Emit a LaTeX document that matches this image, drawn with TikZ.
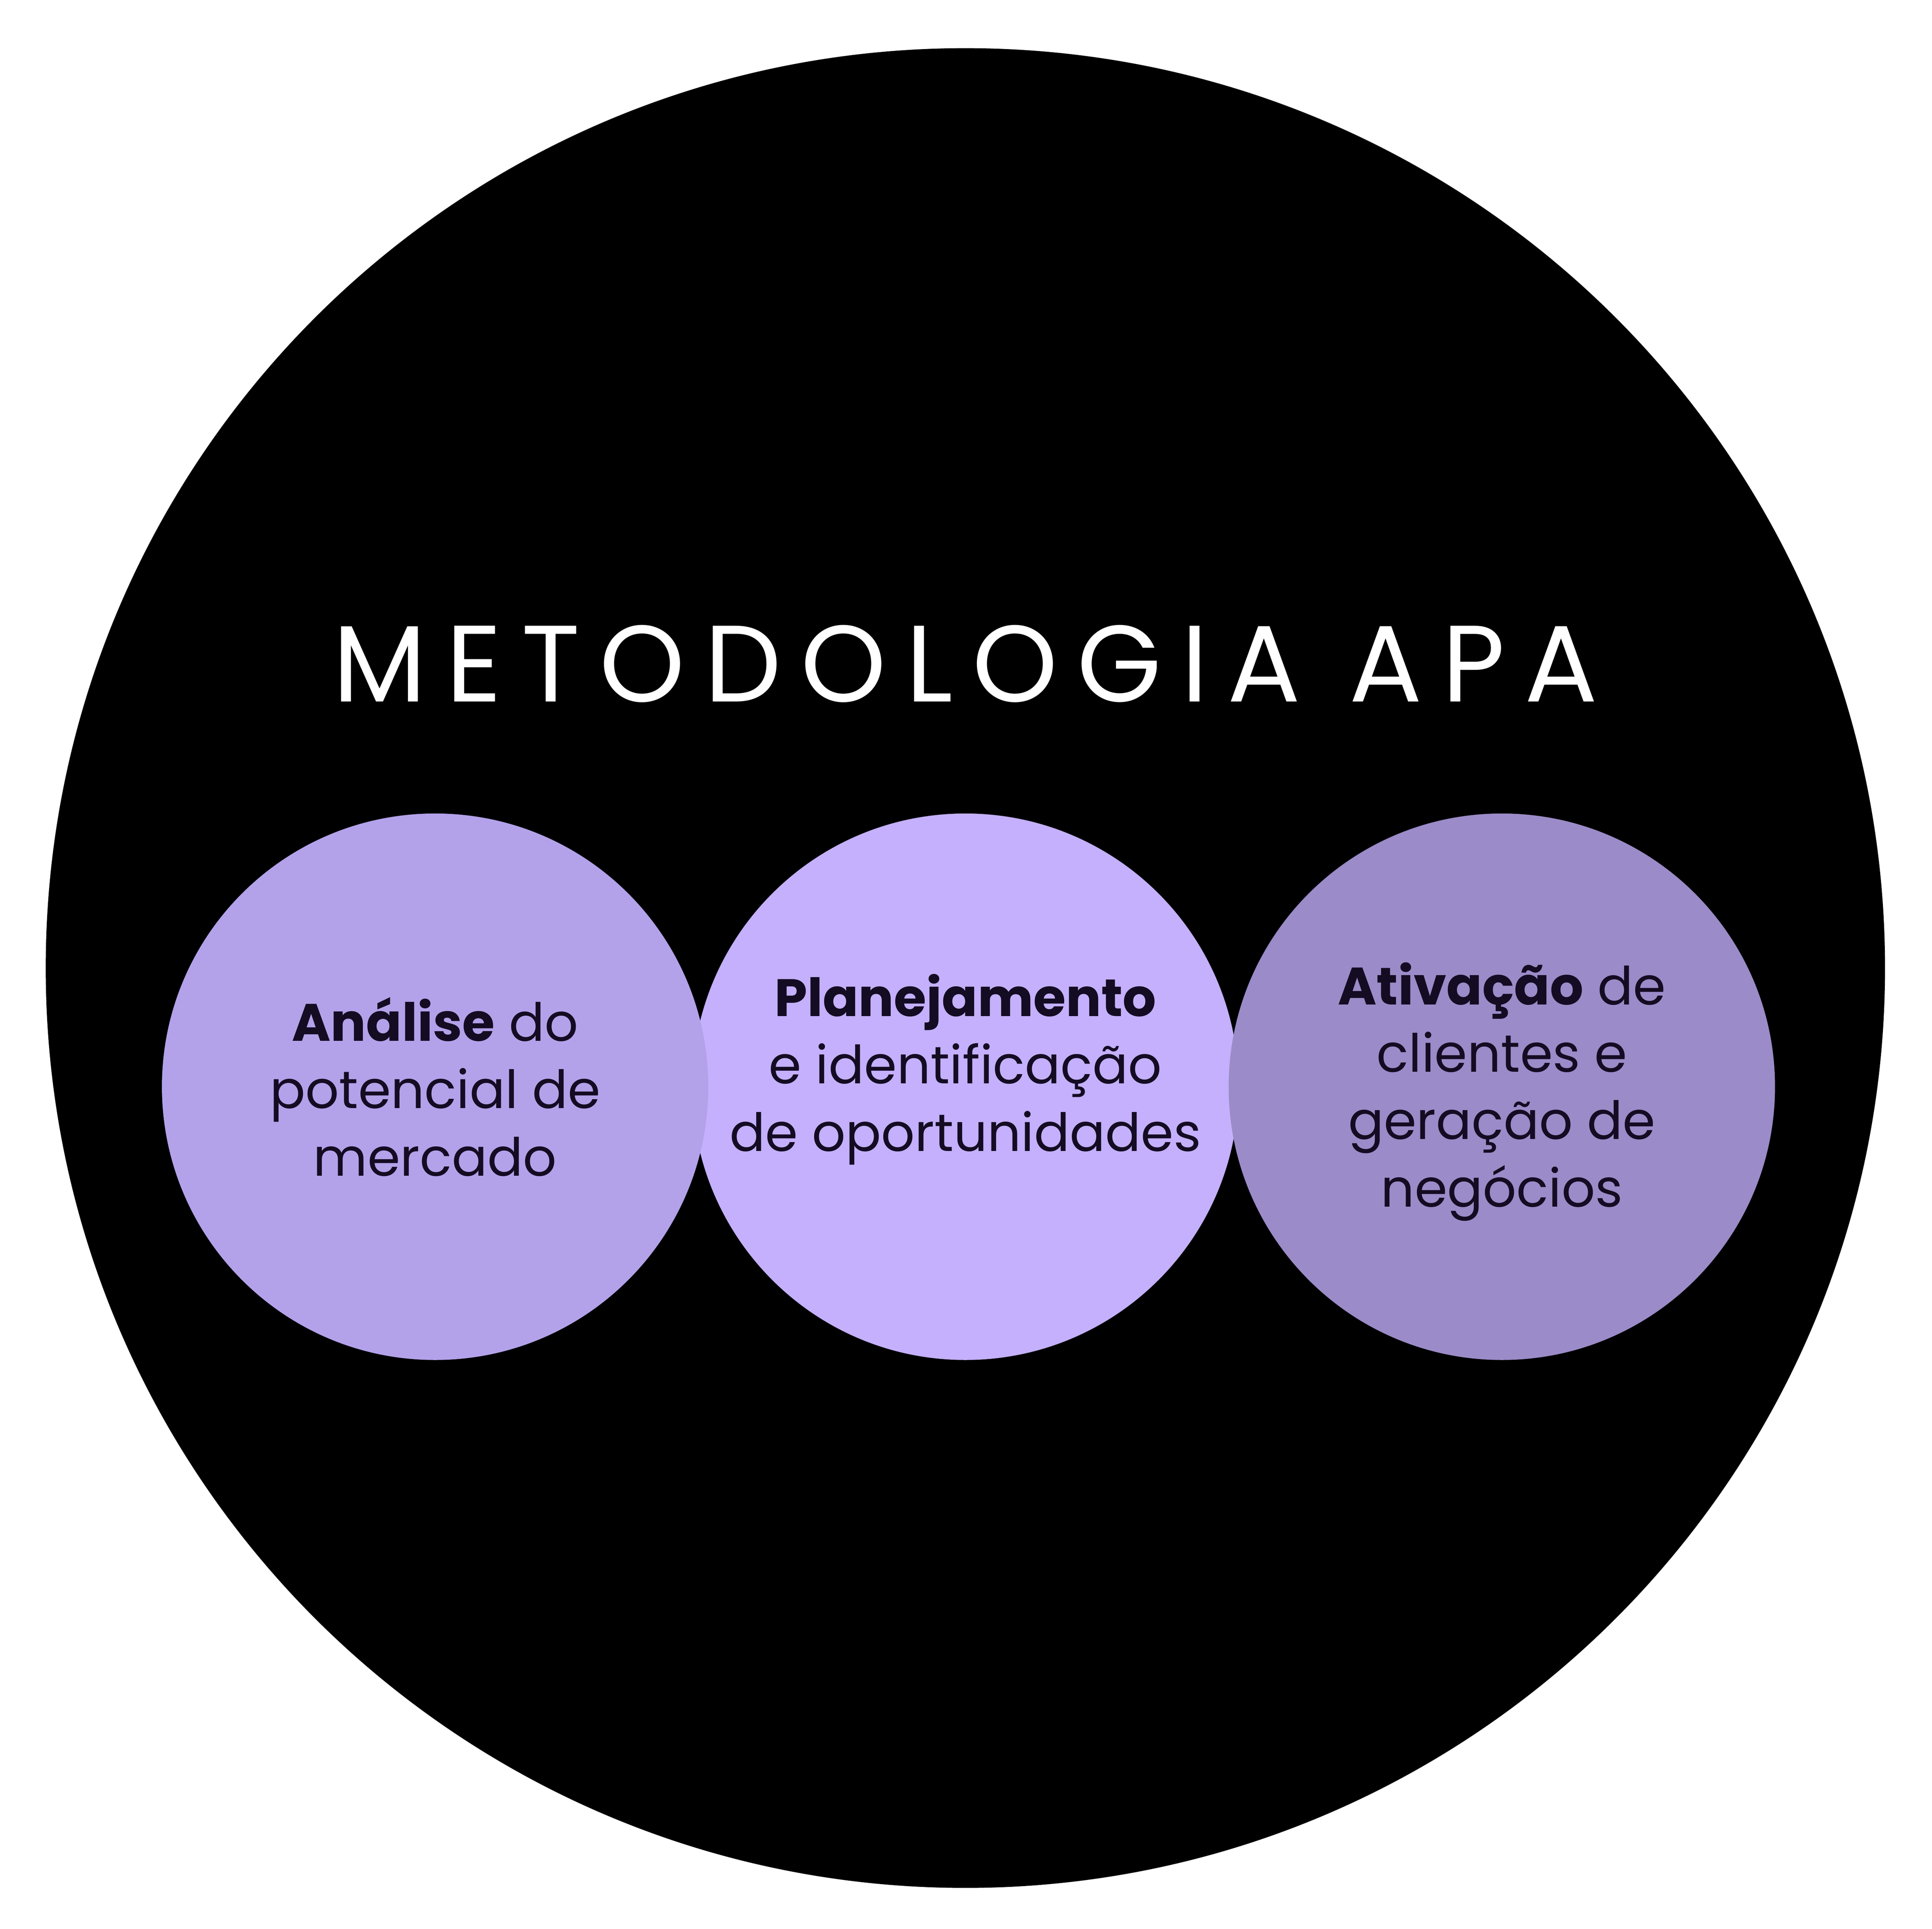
\documentclass[tikz,border=0pt]{standalone}
\usepackage{fontspec}
\setmainfont{Poppins}
\usetikzlibrary{positioning}
\definecolor{lilasA}{HTML}{B3A2EA}
\definecolor{lilasB}{HTML}{C4B0FC}
\definecolor{lilasC}{HTML}{9B8BC8}
\definecolor{tinta}{HTML}{140C22}
\tikzset{
    etapa/.style={circle, minimum size=4.42cm, inner sep=0pt},
    texto/.style={align=center, text=tinta, font=\fontsize{12.5}{15.5}\selectfont\addfontfeature{Scale=0.97}}
}
\begin{document}
\begin{tikzpicture}
	\useasboundingbox (0,0) rectangle (15.63,15.60);
	\node (fundo) [circle, fill=black, minimum size=14.88cm, inner sep=0pt] at (7.81,7.77) {};
	\node (titulo) [text=white, font=\fontsize{25}{30}\selectfont\addfontfeature{LetterSpace=18}] at (7.81,10.23) {METODOLOGIA APA};

	\node (plan) [etapa, fill=lilasB] at (7.81,6.81) {};
	\node (anal) [etapa, fill=lilasA] at (3.52,6.81) {};
	\node (ativ) [etapa, fill=lilasC] at (12.15,6.81) {};

	\node [texto] at (3.52,6.81) {\textbf{Análise} do\\potencial de\\mercado};
	\node [texto] at (7.81,6.95) {\textbf{Planejamento}\\e identificação\\de oportunidades};
	\node [texto] at (12.15,6.77) {\textbf{Ativação} de\\clientes e\\geração de\\negócios};
\end{tikzpicture}
\end{document}
